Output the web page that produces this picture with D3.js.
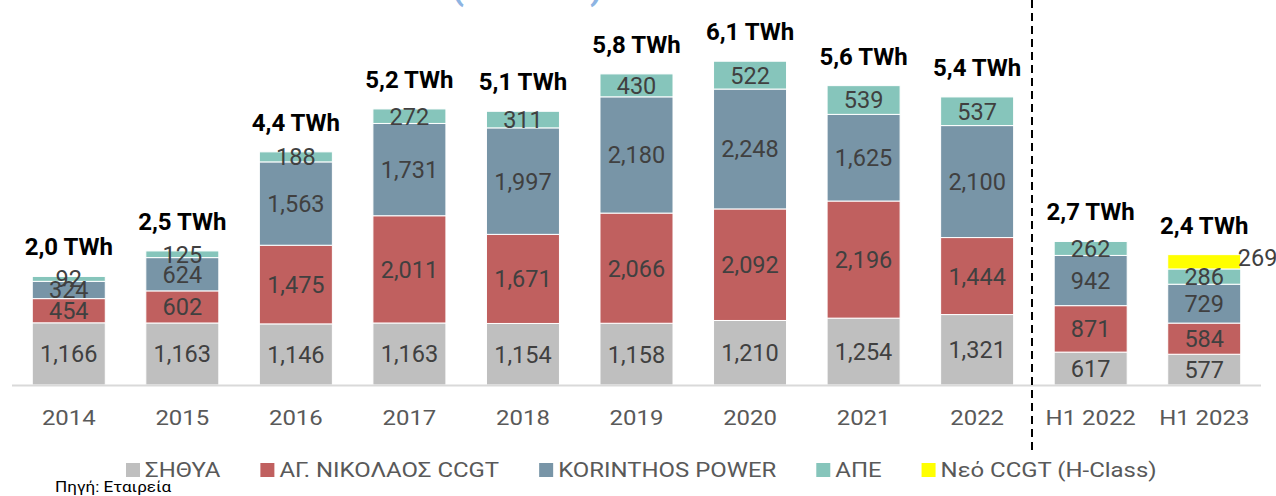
<!DOCTYPE html>
<html>
<head>
<meta charset="utf-8">
<script src="https://cdn.jsdelivr.net/npm/d3@7"></script>
<style>
  html, body { margin: 0; background: #fff; overflow: hidden; }
  svg { font-family: Roboto, "Noto Sans", sans-serif; display: block; }
</style>
</head>
<body>
<svg id="chart" width="1276" height="496"></svg>
<script>
// categories and series (GWh)
const categories = ["2014", "2015", "2016", "2017", "2018", "2019", "2020", "2021", "2022", "H1 2022", "H1 2023"];
const sithya    = [1166, 1163, 1146, 1163, 1154, 1158, 1210, 1254, 1321, 617, 577];
const agNikolaos = [454, 602, 1475, 2011, 1671, 2066, 2092, 2196, 1444, 871, 584];
const korinthos = [324, 624, 1563, 1731, 1997, 2180, 2248, 1625, 2100, 942, 729];
const ape       = [92, 125, 188, 272, 311, 430, 522, 539, 537, 262, 286];
const newCcgt   = [0, 0, 0, 0, 0, 0, 0, 0, 0, 0, 269];
const totalLabels = ["2,0 TWh", "2,5 TWh", "4,4 TWh", "5,2 TWh", "5,1 TWh", "5,8 TWh", "6,1 TWh", "5,6 TWh", "5,4 TWh", "2,7 TWh", "2,4 TWh"];
const seriesNames = ["ΣΗΘΥΑ", "ΑΓ. ΝΙΚΟΛΑΟΣ CCGT", "KORINTHOS POWER", "ΑΠΕ", "Νεό CCGT (H-Class)"];

const colors = ["#bfbfbf", "#c0605f", "#7895a7", "#86c5bb", "#ffff00"];
const seriesValues = [sithya, agNikolaos, korinthos, ape, newCcgt];

const svg = d3.select("#chart");
const baseY = 385;
const stretch = 1.14; // the source text is a bit wide

const x = d3.scaleBand()
  .domain(categories)
  .range([12, 1261])
  .paddingInner(0.357)
  .paddingOuter(0.1785);

const y = d3.scaleLinear()
  .domain([0, 7220])
  .range([baseY, 0]);

// clipped title at the very top
svg.append("text")
  .attr("x", 527).attr("y", -1)
  .attr("text-anchor", "middle")
  .attr("font-size", 36).attr("font-weight", "bold")
  .attr("fill", "#8db4e2")
  .text("(σε GWh)");

// stack rows
const rows = categories.map((c, i) => {
  const r = {cat: c};
  seriesNames.forEach((s, k) => r[s] = seriesValues[k][i]);
  return r;
});
const stacked = d3.stack().keys(seriesNames)(rows);

const layers = svg.append("g").selectAll("g")
  .data(stacked)
  .join("g")
  .attr("fill", (d, k) => colors[k]);

layers.selectAll("rect")
  .data(d => d.filter(p => p[1] - p[0] > 0))
  .join("rect")
  .attr("x", d => x(d.data.cat))
  .attr("width", x.bandwidth())
  .attr("y", d => y(d[1]))
  .attr("height", d => y(d[0]) - y(d[1]))
  .attr("stroke", "#fff")
  .attr("stroke-width", 1);

// axis line
svg.append("line")
  .attr("x1", 12).attr("x2", 1261)
  .attr("y1", baseY + 0.5).attr("y2", baseY + 0.5)
  .attr("stroke", "#d9d9d9").attr("stroke-width", 2);

// segment value labels
stacked.forEach((layer, k) => {
  layer.forEach(p => {
    const v = p[1] - p[0];
    if (v <= 0) return;
    const isNew = k === 4;
    svg.append("text")
      .attr("x", isNew ? x(p.data.cat) + x.bandwidth() - 3 : x(p.data.cat) + x.bandwidth() / 2)
      .attr("y", isNew ? y(p[1]) + 3 : (y(p[0]) + y(p[1])) / 2)
      .attr("dy", "0.36em")
      .attr("text-anchor", isNew ? "start" : "middle")
      .attr("font-size", 23.5)
      .attr("fill", "#404040")
      .text(d3.format(",")(v));
  });
});

// totals
const topLayer = stacked[stacked.length - 1];
topLayer.forEach((p, i) => {
  svg.append("text")
    .attr("x", x(p.data.cat) + x.bandwidth() / 2)
    .attr("y", y(p[1]) - 21)
    .attr("text-anchor", "middle")
    .attr("font-size", 24).attr("font-weight", "bold")
    .attr("fill", "#000")
    .text(totalLabels[i]);
});

// category labels
const xAxis = svg.append("g")
  .attr("transform", `translate(0,${baseY})`)
  .call(d3.axisBottom(x).tickSize(0).tickPadding(25));
xAxis.select(".domain").remove();
xAxis.selectAll("text")
  .attr("font-size", 21)
  .attr("font-family", "Roboto, 'Noto Sans', sans-serif")
  .attr("fill", "#595959")
  .attr("transform", `scale(${stretch},1)`);

// dashed separator
svg.append("line")
  .attr("x1", 1032).attr("x2", 1032)
  .attr("y1", 0).attr("y2", 455)
  .attr("stroke", "#000").attr("stroke-width", 2)
  .attr("stroke-dasharray", "8,5");

// legend
const legend = svg.append("g").attr("transform", "translate(126,0)");
let lx = 0;
seriesNames.forEach((s, k) => {
  const g = legend.append("g").attr("transform", `translate(${lx},0)`);
  g.append("rect").attr("x", 0).attr("y", 463).attr("width", 14).attr("height", 14).attr("fill", colors[k]);
  const t = g.append("text")
    .attr("transform", `translate(19,477) scale(${stretch},1)`)
    .attr("font-size", 21).attr("fill", "#595959")
    .text(s);
  lx += 19 + t.node().getComputedTextLength() * stretch + 40;
});

// source
svg.append("text")
  .attr("transform", `translate(55,492) scale(${stretch},1)`)
  .attr("font-size", 15).attr("fill", "#000")
  .text("Πηγή: Εταιρεία");
</script>
</body>
</html>
